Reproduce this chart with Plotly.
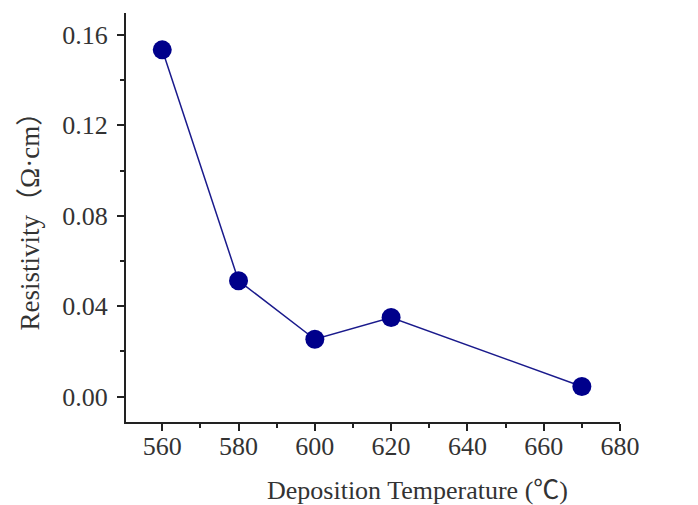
import plotly.graph_objects as go

temperature = [560, 580, 600, 620, 670]
resistivity = [0.1534, 0.0513, 0.0254, 0.0350, 0.0045]
x_ticks = [560, 580, 600, 620, 640, 660, 680]
y_ticks = [0.00, 0.04, 0.08, 0.12, 0.16]
y_tick_labels = ["0.00", "0.04", "0.08", "0.12", "0.16"]
x_title = "Deposition Temperature (℃)"
y_title = "Resistivity（Ω·cm）"

font_family = "Liberation Serif, Times New Roman, Noto Sans CJK SC, serif"
text_color = "#333333"

fig = go.Figure()
fig.add_trace(go.Scatter(
    x=temperature, y=resistivity, mode="lines+markers",
    line=dict(color="#1a1a8c", width=1.5),
    marker=dict(color="#00008b", size=19, line=dict(width=0)),
    showlegend=False,
))

fig.update_layout(
    width=690, height=497,
    margin=dict(l=118, r=78, t=5, b=83, autoexpand=False),
    paper_bgcolor="white", plot_bgcolor="white",
    font=dict(family=font_family, color=text_color),
    xaxis=dict(
        range=[550.5, 680], tickvals=x_ticks, ticktext=[str(v) for v in x_ticks],
        showline=True, linecolor="#222222", linewidth=2, mirror=False,
        ticks="outside", ticklen=7, tickwidth=2, tickcolor="#222222",
        minor=dict(tickvals=[570, 590, 610, 630, 650, 670], ticks="outside", ticklen=4, tickwidth=2, tickcolor="#222222"),
        showgrid=False, zeroline=False,
        ticklabelstandoff=-7,
        tickfont=dict(size=26, family=font_family, color=text_color),
    ),
    yaxis=dict(
        range=[-0.0112, 0.1697], tickvals=y_ticks, ticktext=y_tick_labels,
        showline=True, linecolor="#222222", linewidth=2, mirror=False,
        ticks="outside", ticklen=7, tickwidth=2, tickcolor="#222222",
        minor=dict(tickvals=[0.02, 0.06, 0.10, 0.14], ticks="outside", ticklen=4, tickwidth=2, tickcolor="#222222"),
        showgrid=False, zeroline=False,
        ticklabelstandoff=4,
        tickfont=dict(size=26, family=font_family, color=text_color),
    ),
    annotations=[
        dict(text=x_title, xref="paper", yref="paper", x=0.591, y=-0.167,
             xanchor="center", yanchor="middle", showarrow=False,
             font=dict(size=26, family=font_family, color=text_color)),
        dict(text=y_title, xref="paper", yref="paper", x=-0.194, y=0.508,
             xanchor="center", yanchor="middle", showarrow=False, textangle=-90,
             font=dict(size=27, family=font_family, color=text_color)),
    ],
)

fig.write_html("out.html")
